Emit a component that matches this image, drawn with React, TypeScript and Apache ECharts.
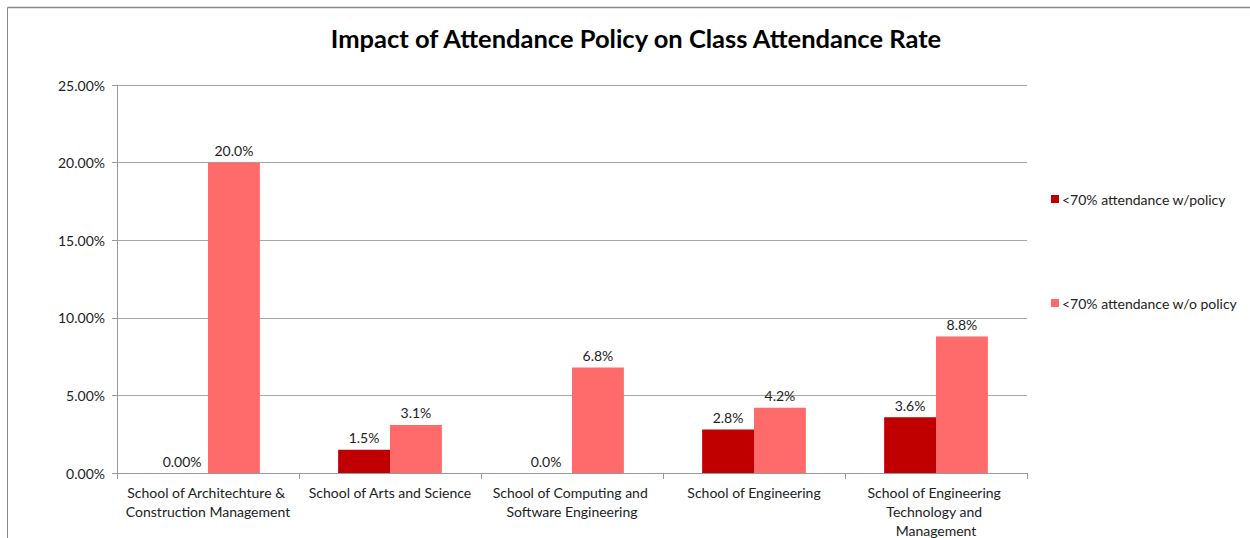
import React, { useEffect, useRef } from "react";
import * as echarts from "echarts";

const categories = [
  "School of Architechture & Construction Management",
  "School of Arts and Science",
  "School of Computing and Software Engineering",
  "School of Engineering",
  "School of Engineering Technology and Management",
];
const withPolicy = [0.0, 1.5, 0.0, 2.8, 3.6];
const withPolicyLabels = ["0.00%", "1.5%", "0.0%", "2.8%", "3.6%"];
const withoutPolicy = [20.0, 3.1, 6.8, 4.2, 8.8];
const withoutPolicyLabels = ["20.0%", "3.1%", "6.8%", "4.2%", "8.8%"];
const seriesNames = ["<70% attendance w/policy", "<70% attendance w/o policy"];
const yTicks = [0, 5, 10, 15, 20, 25];

const FONT = "Lato, 'Open Sans', sans-serif";

export default function App() {
  const ref = useRef<HTMLDivElement>(null);
  useEffect(() => {
    if (!ref.current) return;
    const chart = echarts.init(ref.current, undefined, { renderer: "svg" });
    chart.setOption({
      animation: false,
      backgroundColor: "#ffffff",
      textStyle: { fontFamily: FONT },
      title: {
        text: "Impact of Attendance Policy on Class Attendance Rate",
        left: 631,
        textAlign: "center",
        top: 20,
        textStyle: { fontFamily: FONT, fontSize: 25.5, fontWeight: "bold", color: "#000" },
      },
      graphic: [
        { type: "line", shape: { x1: 7.5, y1: 7.5, x2: 1250, y2: 7.5 }, style: { stroke: "#888", lineWidth: 1.5 } },
        { type: "line", shape: { x1: 7.5, y1: 7.5, x2: 7.5, y2: 538 }, style: { stroke: "#888", lineWidth: 1 } },
      ],
      legend: {
        orient: "vertical",
        left: 1046,
        top: 187,
        itemWidth: 8,
        itemHeight: 8,
        itemGap: 90,
        icon: "rect",
        textStyle: { fontFamily: FONT, fontSize: 14, color: "#222", padding: [0, 0, 0, -2] },
        data: seriesNames,
      },
      grid: {
        left: 117,
        right: 223,
        top: 85,
        bottom: 65,
        containLabel: false,
        outerBoundsMode: "none",
      },
      xAxis: {
        type: "category",
        data: categories,
        axisLine: { show: true, lineStyle: { color: "#999", width: 1 } },
        axisTick: { show: true, length: 6, lineStyle: { color: "#999" } },
        axisLabel: {
          interval: 0,
          margin: 10,
          width: 172,
          overflow: "break",
          lineHeight: 19,
          fontFamily: FONT,
          fontSize: 14,
          color: "#222",
        },
      },
      yAxis: {
        type: "value",
        min: 0,
        max: 25,
        interval: 5,
        axisLine: { show: true, lineStyle: { color: "#999" } },
        axisTick: { show: true, length: 5, lineStyle: { color: "#999" } },
        splitLine: { show: true, lineStyle: { color: "#a6a6a6", width: 1 } },
        axisLabel: {
          margin: 12,
          fontFamily: FONT,
          fontSize: 14,
          color: "#222",
          formatter: (v: number) => (yTicks.includes(v) ? v.toFixed(2) + "%" : ""),
        },
      },
      series: [
        {
          name: seriesNames[0],
          type: "bar",
          data: withPolicy,
          barGap: "0%",
          barCategoryGap: "43%",
          itemStyle: { color: "#c00000" },
          label: {
            show: true,
            position: "top",
            distance: 5,
            fontFamily: FONT,
            fontSize: 14,
            color: "#222",
            formatter: (p: any) => withPolicyLabels[p.dataIndex],
          },
        },
        {
          name: seriesNames[1],
          type: "bar",
          data: withoutPolicy,
          barGap: "0%",
          barCategoryGap: "43%",
          itemStyle: { color: "#ff6a6a" },
          label: {
            show: true,
            position: "top",
            distance: 5,
            fontFamily: FONT,
            fontSize: 14,
            color: "#222",
            formatter: (p: any) => withoutPolicyLabels[p.dataIndex],
          },
        },
      ],
    });
    return () => chart.dispose();
  }, []);
  return (
    <div
      ref={ref}
      style={{ position: "absolute", left: 0, top: 0, width: 1250, height: 538 }}
    />
  );
}
